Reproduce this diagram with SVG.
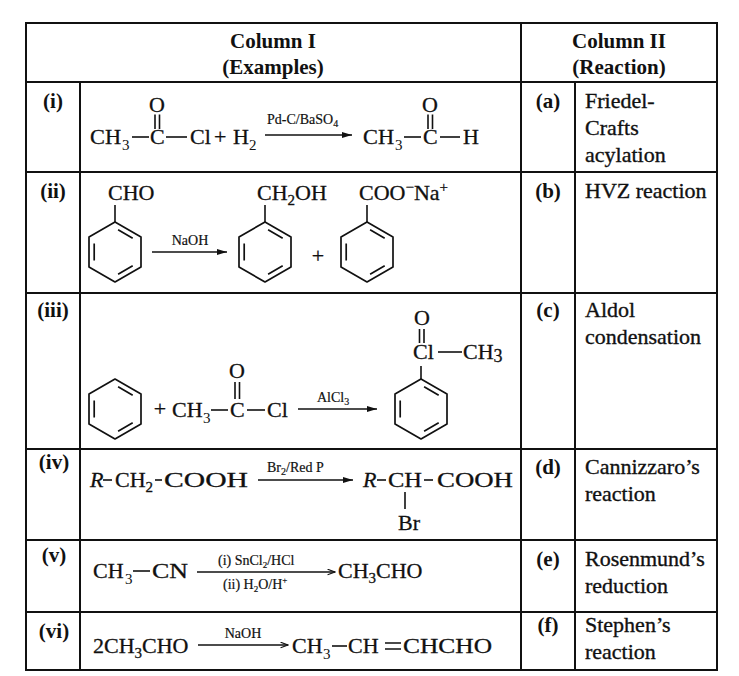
<svg xmlns="http://www.w3.org/2000/svg" xmlns:xlink="http://www.w3.org/1999/xlink" width="739" height="676" viewBox="0 0 739 676">
<style>
text{font-family:"Liberation Serif","Times New Roman",serif;fill:#111}
.hd{font-weight:bold;font-size:21px;text-anchor:middle}
.lb{font-weight:bold;font-size:21px;text-anchor:middle}
.c2{font-size:22px;stroke:#111;stroke-width:0.35}
.ch{font-size:22px;stroke:#111;stroke-width:0.3}
.sb{font-size:15px}
.rg{font-size:14px;stroke:#111;stroke-width:0.2}
.rs{font-size:10px}
.grid{stroke:#111;stroke-width:2;fill:none}
.bond{stroke:#111;stroke-width:1.6;fill:none}
.ring{stroke:#111;stroke-width:1.7;fill:none;stroke-linejoin:round}
.arr{stroke:#111;stroke-width:1.4;fill:none}
</style>
<defs>
<marker id="ah" viewBox="0 0 10 6" refX="10" refY="3" markerWidth="10" markerHeight="6" markerUnits="userSpaceOnUse" orient="auto">
<path d="M0,0 L10,3 L0,6 Z" fill="#111"/>
</marker>
<marker id="ao" viewBox="0 0 10 8" refX="9.5" refY="4" markerWidth="9" markerHeight="7" markerUnits="userSpaceOnUse" orient="auto">
<path d="M1,0.8 L9.5,4 L1,7.2" fill="none" stroke="#111" stroke-width="1.3"/>
</marker>
<g id="benz" class="ring">
<path d="M0,-30 L26,-15 L26,15 L0,30 L-26,15 L-26,-15 Z"/>
<path d="M3.1,-22.2 L17.7,-13.8 M17.7,13.8 L3.1,22.2 M-20.8,8.4 L-20.8,-8.4"/>
</g>
</defs>
<rect width="739" height="676" fill="#fff"/>

<g id="table-grid" class="grid">
<rect x="26" y="23" width="691" height="647"/>
<path d="M80,82 V670 M521,23 V670 M575,82 V670"/>
<path d="M26,82 H717 M26,172 H717 M26,293 H717 M26,449 H717 M26,540 H717 M26,612 H717"/>
</g>

<g id="header">
<text class="hd" x="273" y="48">Column I</text>
<text class="hd" x="273" y="74">(Examples)</text>
<text class="hd" x="619" y="48">Column II</text>
<text class="hd" x="619" y="74">(Reaction)</text>
</g>

<g id="row-labels">
<text class="lb" x="53" y="108">(i)</text>
<text class="lb" x="53" y="198">(ii)</text>
<text class="lb" x="53" y="317">(iii)</text>
<text class="lb" x="54" y="469">(iv)</text>
<text class="lb" x="54" y="562">(v)</text>
<text class="lb" x="54" y="638">(vi)</text>
</g>

<g id="col2-labels">
<text class="lb" x="548" y="108">(a)</text>
<text class="lb" x="548" y="198">(b)</text>
<text class="lb" x="548" y="317">(c)</text>
<text class="lb" x="548" y="474">(d)</text>
<text class="lb" x="548" y="566">(e)</text>
<text class="lb" x="548" y="632">(f)</text>
</g>

<g id="reaction-a" class="c2">
<text x="585" y="108">Friedel-</text>
<text x="585" y="135">Crafts</text>
<text x="585" y="162">acylation</text>
</g>
<g id="reaction-b" class="c2"><text x="585" y="198">HVZ reaction</text></g>
<g id="reaction-c" class="c2">
<text x="585" y="317">Aldol</text>
<text x="585" y="344">condensation</text>
</g>
<g id="reaction-d" class="c2">
<text x="585" y="474">Cannizzaro’s</text>
<text x="585" y="501">reaction</text>
</g>
<g id="reaction-e" class="c2">
<text x="585" y="566">Rosenmund’s</text>
<text x="585" y="593">reduction</text>
</g>
<g id="reaction-f" class="c2">
<text x="585" y="632">Stephen’s</text>
<text x="585" y="659">reaction</text>
</g>

<g id="example-i">
<text class="ch" x="90" y="144" textLength="31" lengthAdjust="spacingAndGlyphs">CH</text>
<text class="sb" x="122" y="150">3</text>
<line class="bond" x1="132" y1="137" x2="149" y2="137"/>
<text class="ch" x="150" y="144">C</text>
<text class="ch" x="157" y="112" text-anchor="middle">O</text>
<path class="bond" d="M155,114.5 V129 M159.5,114.5 V129"/>
<line class="bond" x1="166" y1="137" x2="187" y2="137"/>
<text class="ch" x="190" y="144">Cl</text>
<text class="ch" x="214" y="144">+</text>
<text class="ch" x="233" y="144">H</text>
<text class="sb" x="249" y="150">2</text>
<text class="rg" x="267" y="124">Pd-C/BaSO<tspan class="rs" dy="3">4</tspan></text>
<text class="ch" x="363" y="144" textLength="31" lengthAdjust="spacingAndGlyphs">CH</text>
<text class="sb" x="395" y="150">3</text>
<line class="bond" x1="404" y1="137" x2="421" y2="137"/>
<text class="ch" x="423" y="144">C</text>
<text class="ch" x="430" y="112" text-anchor="middle">O</text>
<path class="bond" d="M428,114.5 V129 M432.5,114.5 V129"/>
<line class="bond" x1="440" y1="137" x2="460" y2="137"/>
<text class="ch" x="463" y="144">H</text>
</g>

<g id="example-ii">
<use xlink:href="#benz" href="#benz" x="115" y="252"/>
<line class="bond" x1="115" y1="222" x2="115" y2="205"/>
<text class="ch" x="108" y="200">CHO</text>
<text class="rg" x="190" y="245" text-anchor="middle" font-size="15">NaOH</text>
<use xlink:href="#benz" href="#benz" x="265" y="252"/>
<line class="bond" x1="265" y1="222" x2="265" y2="205"/>
<text class="ch" x="257" y="200">CH<tspan class="sb" dy="5">2</tspan><tspan dy="-5">OH</tspan></text>
<text class="ch" x="318" y="263" text-anchor="middle" font-size="19">+</text>
<use xlink:href="#benz" href="#benz" x="367" y="252"/>
<line class="bond" x1="367" y1="222" x2="367" y2="205"/>
<text class="ch" x="359" y="200">COO<tspan class="sb" dy="-8">−</tspan><tspan dy="8">Na</tspan><tspan class="sb" dy="-8">+</tspan></text>
</g>

<g id="example-iii">
<use xlink:href="#benz" href="#benz" x="115" y="409"/>
<text class="ch" x="160" y="416" text-anchor="middle" font-size="19">+</text>
<text class="ch" x="172" y="417">CH</text>
<text class="sb" x="203" y="423">3</text>
<line class="bond" x1="211" y1="410" x2="228" y2="410"/>
<text class="ch" x="230" y="417">C</text>
<text class="ch" x="237" y="378" text-anchor="middle">O</text>
<path class="bond" d="M235,382 V399 M239.5,382 V399"/>
<line class="bond" x1="247" y1="410" x2="265" y2="410"/>
<text class="ch" x="267" y="417">Cl</text>
<text class="rg" x="317" y="402">AlCl<tspan class="rs" dy="3">3</tspan></text>
<use xlink:href="#benz" href="#benz" x="421" y="409"/>
<line class="bond" x1="421" y1="379" x2="421" y2="366"/>
<text class="ch" x="413" y="359">Cl</text>
<text class="ch" x="422" y="325" text-anchor="middle">O</text>
<path class="bond" d="M419.5,329 V343 M424,329 V343"/>
<line class="bond" x1="438" y1="352" x2="462" y2="352"/>
<text class="ch" x="463" y="359">CH<tspan dy="3" font-size="18">3</tspan></text>
</g>

<g id="example-iv">
<text class="ch" x="90" y="487" font-style="italic">R</text>
<line class="bond" x1="103" y1="480" x2="112" y2="480"/>
<text class="ch" x="115" y="487">CH<tspan class="sb" dy="5">2</tspan></text>
<line class="bond" x1="155" y1="480" x2="162" y2="480"/>
<text class="ch" x="164" y="487" textLength="84" lengthAdjust="spacingAndGlyphs">COOH</text>
<text class="rg" x="267" y="472" font-size="15">Br<tspan class="rs" dy="3">2</tspan><tspan dy="-3">/Red P</tspan></text>
<text class="ch" x="363" y="487" font-style="italic">R</text>
<line class="bond" x1="377" y1="480" x2="386" y2="480"/>
<text class="ch" x="388" y="487" textLength="34" lengthAdjust="spacingAndGlyphs">CH</text>
<line class="bond" x1="424" y1="480" x2="433" y2="480"/>
<text class="ch" x="437" y="487" textLength="76" lengthAdjust="spacingAndGlyphs">COOH</text>
<line class="bond" x1="405" y1="492" x2="405" y2="509"/>
<text class="ch" x="398" y="530" textLength="22" lengthAdjust="spacingAndGlyphs">Br</text>
</g>

<g id="example-v">
<text class="ch" x="93" y="578">CH</text>
<text class="sb" x="125" y="584">3</text>
<line class="bond" x1="133" y1="571" x2="150" y2="571"/>
<text class="ch" x="152" y="578" textLength="36" lengthAdjust="spacingAndGlyphs">CN</text>
<text class="rg" x="218" y="565" font-size="12">(i) SnCl<tspan font-size="9" dy="3">2</tspan><tspan dy="-3">/HCl</tspan></text>
<text class="rg" x="223" y="589" font-size="12">(ii) H<tspan font-size="9" dy="3">2</tspan><tspan dy="-3">O/H</tspan><tspan font-size="9" dy="-6">+</tspan></text>
<text class="ch" x="338" y="578">CH<tspan class="sb" dy="5">3</tspan><tspan dy="-5">CHO</tspan></text>
</g>

<g id="example-vi">
<text class="ch" x="93" y="653">2CH<tspan class="sb" dy="5">3</tspan><tspan dy="-5">CHO</tspan></text>
<text class="rg" x="243" y="638" text-anchor="middle">NaOH</text>
<text class="ch" x="292" y="653">CH</text>
<text class="sb" x="323" y="659">3</text>
<line class="bond" x1="332" y1="646" x2="347" y2="646"/>
<text class="ch" x="348" y="653">CH</text>
<path class="bond" d="M385,643 H401 M385,649 H401"/>
<text class="ch" x="403" y="653" textLength="89" lengthAdjust="spacingAndGlyphs">CHCHO</text>
</g>

<g id="connectors">
<line class="arr" x1="265" y1="135" x2="352" y2="135" marker-end="url(#ah)"/>
<line class="arr" x1="152" y1="252" x2="227" y2="252" marker-end="url(#ah)"/>
<line class="arr" x1="298" y1="409" x2="377" y2="409" marker-end="url(#ah)"/>
<line class="arr" x1="258" y1="480" x2="353" y2="480" marker-end="url(#ah)"/>
<line class="arr" x1="197" y1="572" x2="335" y2="572" marker-end="url(#ao)"/>
<line class="arr" x1="198" y1="645" x2="288" y2="645" marker-end="url(#ao)"/>
</g>
</svg>
